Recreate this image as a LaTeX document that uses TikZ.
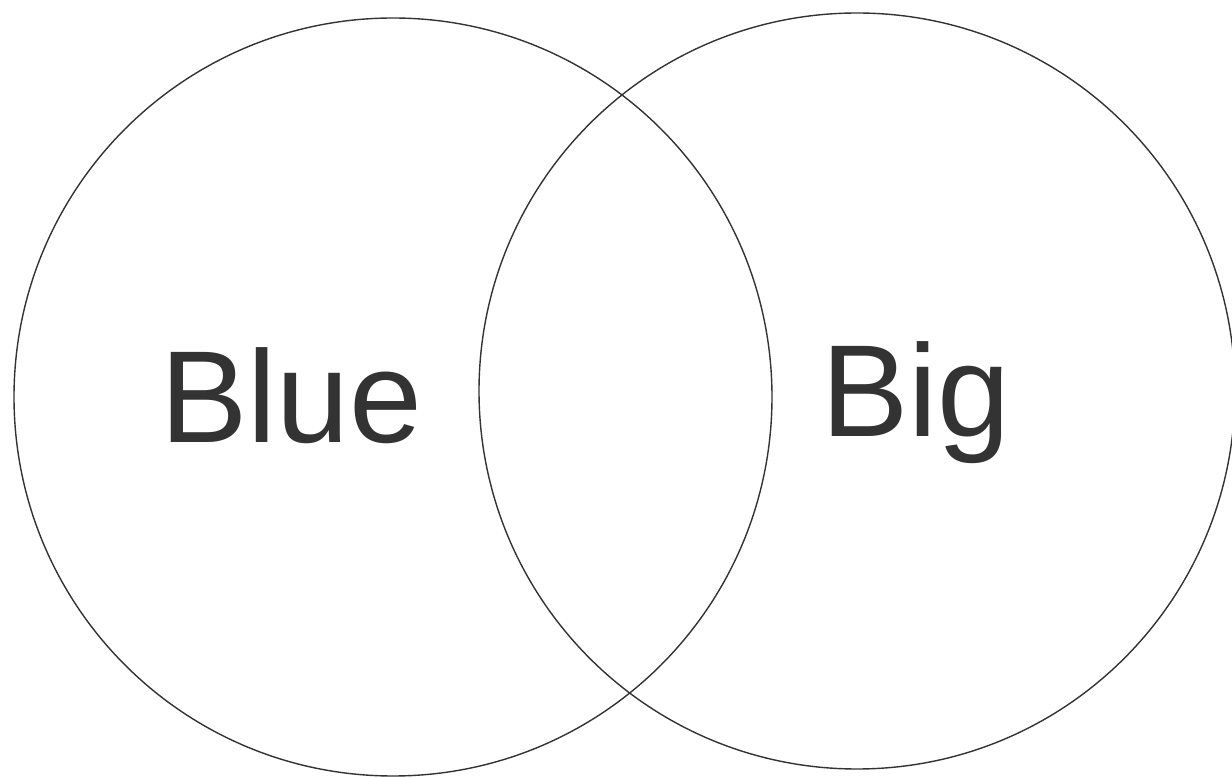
\documentclass[tikz,border=0pt]{standalone}
\usepackage{fontspec}
\setmainfont{Liberation Sans}
\begin{document}
\begin{tikzpicture}[x=1pt,y=1pt,
  ring/.style={draw=black!80, line width=1.4pt},
  label/.style={inner sep=0pt, text=black!80, font=\fontsize{131}{131}\selectfont}]
\useasboundingbox (0,0) rectangle (1232,777);
\clip (0,0) rectangle (1232,777);
\fill[white] (0,0) rectangle (1232,777);
\draw[ring] (393,380) circle[radius=379];
\draw[ring] (857,386) circle[radius=378];
\node[label, anchor=base west] (blue) at (160,334) {Blue};
\node[label, anchor=base west] (big) at (821,340) {Big};
\end{tikzpicture}
\end{document}
